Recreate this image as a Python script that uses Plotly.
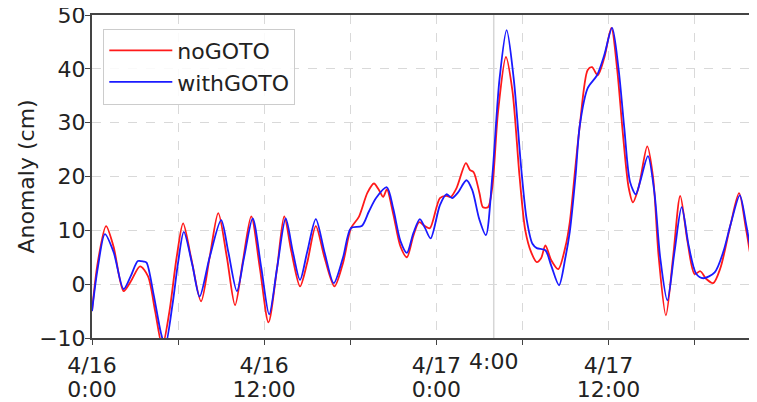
import plotly.graph_objects as go

# hours since 4/16 0:00
red_h = [0.0, 0.4, 0.98, 1.5, 2.2, 2.7, 3.35, 3.9, 4.4, 4.9, 5.4, 5.9, 6.35, 6.9, 7.6, 8.2, 8.8, 9.4,
         9.97, 10.5, 11.1, 11.7, 12.3, 12.9, 13.4, 13.9, 14.5, 15.0, 15.6, 16.2, 16.9, 17.5, 18.05,
         18.6, 19.2, 19.65, 20.0, 20.3, 20.55, 21.0, 21.5, 21.95, 22.4, 22.8, 23.2, 23.55, 24.25,
         24.7, 25.0, 25.4, 26.06, 26.35, 26.6, 27.0, 27.25, 27.6, 27.9, 28.3, 28.85, 29.3, 29.8,
         30.2, 30.6, 31.0, 31.3, 31.6, 32.0, 32.5, 33.0, 33.3, 33.7, 34.0, 34.55, 34.85, 35.25,
         35.7, 36.2, 36.6, 37.0, 37.4, 37.7, 38.1, 38.7, 39.1, 39.5, 40.0, 40.5, 41.0, 41.5, 42.0,
         42.4, 42.8, 43.3, 43.8, 44.5, 45.1, 45.6, 46.2, 46.5]
red_v = [-5, 4, 10.8, 7, -1.3, 0.5, 3.3, 1.5, -5, -11.5, -5, 5, 11.3, 5, -3.2, 5, 13.2, 5,
         -3.9, 4, 12.6, 3, -7.1, 3, 12.6, 6, -0.4, 4, 10.8, 5, -0.4, 4, 10.4,
         12.5, 17, 18.7, 17.5, 16.2, 17.6, 13, 7, 5.0, 9, 11.5, 10.8, 10.4, 16.0,
         16.4, 16.2, 17.8, 22.5, 21.2, 20.8, 17, 14.3, 14.3, 18, 32, 42.2, 36, 20,
         10, 6, 4.1, 4.8, 7.2, 4.5, 2.8, 7, 11.5, 22, 29.5, 39.8, 40.3, 38.8,
         42, 47.6, 40, 28, 18, 15.2, 18, 25.6, 20, 5, -5.8, 5, 16.4, 8, 1.9,
         2.4, 1.0, 0.2, 3, 11, 16.9, 10, 2.0, 1.5]

blue_h = [0.0, 0.4, 0.9, 1.5, 2.2, 2.7, 3.2, 3.6, 3.8, 4.3, 4.8, 5.1, 5.6, 6.0, 6.4, 7.0, 7.5, 8.2,
          9.0, 9.5, 10.1, 10.6, 11.2, 11.8, 12.35, 12.9, 13.5, 14.0, 14.5, 15.0, 15.6, 16.2, 16.85,
          17.5, 18.05, 18.8, 19.3, 19.8, 20.55, 21.0, 21.5, 21.95, 22.4, 22.85, 23.2, 23.6, 24.25,
          24.7, 25.1, 25.5, 26.1, 26.5, 27.0, 27.45, 27.9, 28.4, 28.9, 29.4, 29.9, 30.3, 30.7,
          31.0, 31.6, 32.0, 32.55, 33.0, 33.3, 33.7, 34.0, 34.55, 35.2, 35.7, 36.25, 36.7, 37.1,
          37.5, 37.9, 38.2, 38.75, 39.2, 39.6, 40.1, 40.6, 41.1, 41.6, 42.1, 42.6, 43.4, 44.0,
          44.5, 45.15, 45.6, 46.2, 46.5]
blue_v = [-5, 3, 9.3, 6, -0.9, 1.5, 4.3, 4.2, 4.0, -2, -9, -11.5, -4, 4, 9.7, 3.5, -2.3, 5,
          11.9, 6, -1.3, 5, 12.2, 3, -5.6, 3, 12.2, 6, 0.8, 6, 12.1, 6, 0.2,
          5, 10.4, 10.8, 13.5, 16, 18.0, 14, 8, 5.8, 9.5, 12.1, 10.5, 8.5, 14.7,
          16.7, 16.0, 17, 19.3, 17.5, 12, 9.1, 20, 38, 47.2, 38, 22, 12, 7.5,
          6.7, 6.3, 3.5, -0.2, 5, 9.7, 20, 29.5, 36.4, 38.8, 42.5, 47.6, 40, 29,
          19, 16.7, 19, 23.8, 17, 5, -3.0, 6, 14.3, 7, 2.0, 1.1, 2.2, 6,
          11, 16.5, 11, 3.0, 2]

x_tickvals = [0, 6, 12, 18, 24, 30, 36, 42]
x_date_text = ["4/16", "", "4/16", "", "4/17", "", "4/17", ""]
x_time_text = ["0:00", "", "12:00", "", "0:00", "", "12:00", ""]
y_tickvals = [-10, 0, 10, 20, 30, 40, 50]
marker_hour = 28
marker_label = "4:00"
y_title = "Anomaly (cm)"
x_range = [0, 46.35]

font_family = "DejaVu Sans"
fs = 22
fig = go.Figure()
fig.add_trace(go.Scatter(x=red_h, y=red_v, mode="lines", name="noGOTO",
                         line=dict(color="#ff1a1a", width=1.8, shape="spline", smoothing=0.8)))
fig.add_trace(go.Scatter(x=blue_h, y=blue_v, mode="lines", name="withGOTO",
                         line=dict(color="#1a1aff", width=1.8, shape="spline", smoothing=0.8)))
# invisible trace to activate the second-line tick axis
fig.add_trace(go.Scatter(x=x_range, y=[None, None], xaxis="x2", showlegend=False,
                         hoverinfo="skip", mode="lines"))

fig.add_shape(type="line", x0=marker_hour, x1=marker_hour, y0=0, y1=1, yref="paper",
              line=dict(color="#d6d6d6", width=1.5), layer="below")
fig.add_annotation(x=marker_hour, y=0, yref="paper", text=marker_label, showarrow=False,
                   yanchor="middle", yshift=-23, font=dict(size=fs, color="#222222", family=font_family))
fig.add_annotation(x=-0.0992, y=0.5, xref="paper", yref="paper", text=y_title, showarrow=False,
                   textangle=-90, xanchor="center", yanchor="middle",
                   font=dict(size=fs, color="#222222", family=font_family))

fig.update_layout(
    width=757, height=402,
    margin=dict(l=84, r=8, t=7, b=72),
    plot_bgcolor="white", paper_bgcolor="white",
    font=dict(family=font_family, size=fs, color="#222222"),
    showlegend=True,
    legend=dict(x=0.017, y=0.958, xanchor="left", yanchor="top",
                bgcolor="rgba(255,255,255,0.85)", bordercolor="#cccccc", borderwidth=1,
                font=dict(size=fs), itemwidth=63),
    xaxis=dict(range=x_range, tickvals=x_tickvals, ticktext=x_date_text, automargin=False,
               showgrid=True, gridcolor="#d9d9d9", griddash="dash", gridwidth=1,
               showline=True, linecolor="#444444", linewidth=2, mirror=True,
               ticks="outside", ticklen=5, tickcolor="#444444", zeroline=False,
               ticklabelstandoff=2, ticklabeloverflow="allow"),
    xaxis2=dict(range=x_range, tickvals=x_tickvals, ticktext=x_time_text, automargin=False,
                overlaying="x", side="bottom", anchor="y", showgrid=False, showline=False,
                ticks="", ticklabelstandoff=36, zeroline=False, ticklabeloverflow="allow"),
    yaxis=dict(range=[-10, 50], tickvals=y_tickvals, automargin=False,
               showgrid=True, gridcolor="#d9d9d9", griddash="dash", gridwidth=1,
               showline=True, linecolor="#444444", linewidth=2,
               ticks="outside", ticklen=5, tickcolor="#444444", zeroline=False,
               ticklabelstandoff=-5, ticklabeloverflow="allow"),
)
fig.write_html("out.html")
